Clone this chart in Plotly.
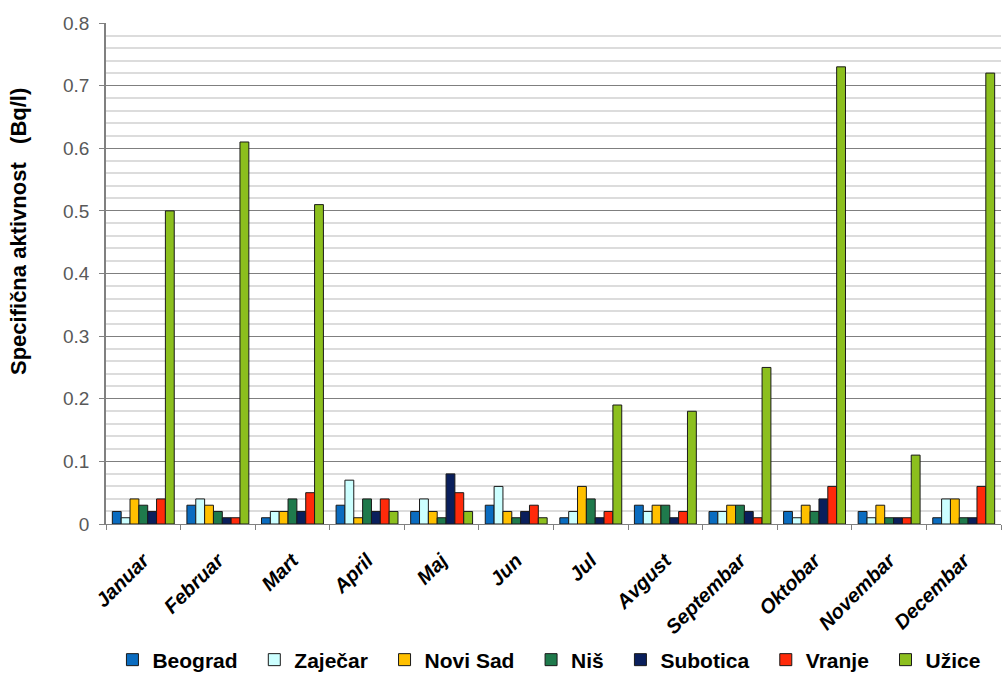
import plotly.graph_objects as go

months = ["Januar", "Februar", "Mart", "April", "Maj", "Jun", "Jul",
          "Avgust", "Septembar", "Oktobar", "Novembar", "Decembar"]

beograd  = [0.02, 0.03, 0.01, 0.03, 0.02, 0.03, 0.01, 0.03, 0.02, 0.02, 0.02, 0.01]
zajecar  = [0.01, 0.04, 0.02, 0.07, 0.04, 0.06, 0.02, 0.02, 0.02, 0.01, 0.01, 0.04]
novi_sad = [0.04, 0.03, 0.02, 0.01, 0.02, 0.02, 0.06, 0.03, 0.03, 0.03, 0.03, 0.04]
nis      = [0.03, 0.02, 0.04, 0.04, 0.01, 0.01, 0.04, 0.03, 0.03, 0.02, 0.01, 0.01]
subotica = [0.02, 0.01, 0.02, 0.02, 0.08, 0.02, 0.01, 0.01, 0.02, 0.04, 0.01, 0.01]
vranje   = [0.04, 0.01, 0.05, 0.04, 0.05, 0.03, 0.02, 0.02, 0.01, 0.06, 0.01, 0.06]
uzice    = [0.50, 0.61, 0.51, 0.02, 0.02, 0.01, 0.19, 0.18, 0.25, 0.73, 0.11, 0.72]

series = [
    ("Beograd", beograd, "#0A6CC0"),
    ("Zaječar", zajecar, "#CCFFFF"),
    ("Novi Sad", novi_sad, "#FFC000"),
    ("Niš", nis, "#1F7A4C"),
    ("Subotica", subotica, "#0A1F5C"),
    ("Vranje", vranje, "#FF2A0A"),
    ("Užice", uzice, "#8CBF1E"),
]

# trailing non-breaking spaces widen the gap between legend entries
pad = "\u00a0\u00a0"

fig = go.Figure()
for i, (name, vals, color) in enumerate(series):
    label = name if i == len(series) - 1 else name + pad
    fig.add_trace(go.Bar(
        x=months, y=vals, name=label,
        marker=dict(color=color, line=dict(color="#1a1a1a", width=1)),
    ))

font_family = "Liberation Sans, Arial, sans-serif"

fig.update_layout(
    width=1004, height=673,
    margin=dict(l=106, r=3, t=23, b=149, autoexpand=False),
    paper_bgcolor="white", plot_bgcolor="white",
    barmode="group", bargap=0.17, bargroupgap=0,
    font=dict(family=font_family, color="#000000"),
    showlegend=True,
    legend=dict(
        orientation="h", x=0.112, xanchor="left", xref="container",
        y=(673 - 660) / 673, yanchor="middle", yref="container",
        font=dict(size=21, family=font_family, color="#000000", weight="bold"),
        itemwidth=30, tracegroupgap=0,
    ),
    xaxis=dict(
        type="category", tickson="boundaries", automargin=False,
        ticks="outside", ticklen=5, tickcolor="#808080",
        showline=True, linecolor="#808080", linewidth=1,
        tickangle=-45, ticklabelstandoff=16,
        tickfont=dict(size=20, family=font_family, color="#000000",
                      weight="bold", style="italic"),
        showgrid=False,
    ),
    yaxis=dict(
        range=[0, 0.8], dtick=0.1, tickformat="~g", automargin=False,
        ticks="outside", ticklen=5, tickcolor="#808080",
        showline=True, linecolor="#808080", linewidth=1.5,
        showgrid=True, gridcolor="#7F7F7F", gridwidth=1,
        minor=dict(dtick=0.02, showgrid=True, gridcolor="#DCDCDC", gridwidth=1.6),
        tickfont=dict(size=19, family=font_family, color="#595959"),
        ticklabelstandoff=6,
        zeroline=False,
    ),
    annotations=[dict(
        text="Specifična aktivnost \u00a0 (Bq/l)",
        xref="paper", yref="paper",
        x=(18 - 106) / 895, y=(524 - 232) / 501,
        xanchor="center", yanchor="middle",
        textangle=-90, showarrow=False,
        font=dict(size=22, family=font_family, color="#000000", weight="bold"),
    )],
)

fig.write_html("out.html")
